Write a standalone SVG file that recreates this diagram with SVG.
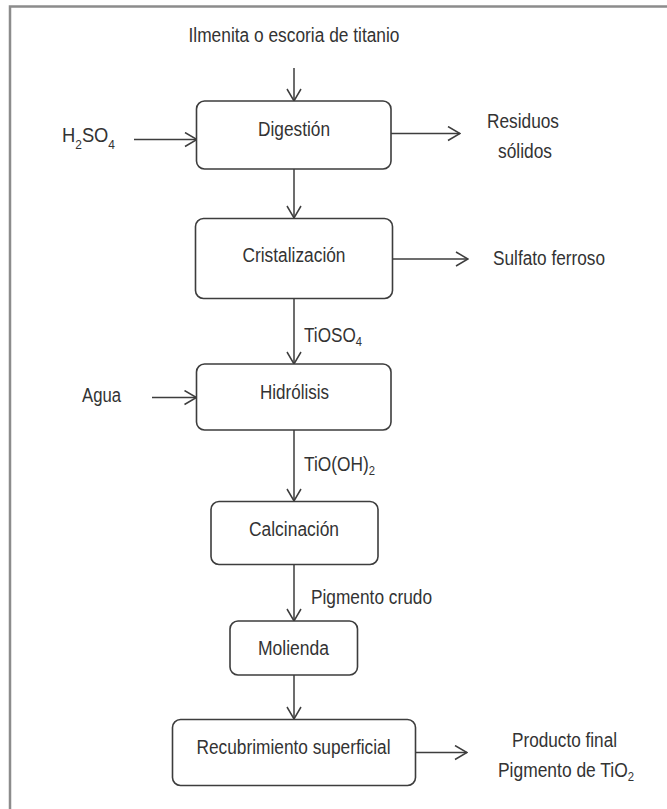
<svg xmlns="http://www.w3.org/2000/svg" width="667" height="809" viewBox="0 0 667 809">
  <style>
    .frame { fill: none; stroke: #8c8c8c; stroke-width: 2.5; }
    .box { fill: #ffffff; stroke: #3d3d3d; stroke-width: 1.6; }
    .flow { fill: none; stroke: #3d3d3d; stroke-width: 1.5; marker-end: url(#chev); }
    text { font-family: "Liberation Sans", Arial, sans-serif; font-size: 20px; fill: #333333; }
    .c { text-anchor: middle; }
    .sub { font-size: 13px; }
  </style>
  <defs>
    <marker id="chev" viewBox="0 0 14 16" refX="13" refY="8" markerWidth="14" markerHeight="16" markerUnits="userSpaceOnUse" orient="auto">
      <path d="M1,1 L13,8 L1,15" fill="none" stroke="#3d3d3d" stroke-width="1.5"/>
    </marker>
  </defs>

  <rect width="667" height="809" fill="#ffffff"/>

  <!-- outer frame (top and left edges) -->
  <path class="frame" d="M10,809 L10,6.5 L667,6.5"/>

  <!-- connectors -->
  <g id="connectors">
    <line class="flow" x1="294" y1="68" x2="294" y2="101"/>
    <line class="flow" x1="294" y1="169" x2="294" y2="218"/>
    <line class="flow" x1="294" y1="298" x2="294" y2="364"/>
    <line class="flow" x1="294" y1="430" x2="294" y2="501"/>
    <line class="flow" x1="294" y1="564" x2="294" y2="621"/>
    <line class="flow" x1="294" y1="675" x2="294" y2="719"/>
    <line class="flow" x1="134" y1="139.5" x2="197" y2="139.5"/>
    <line class="flow" x1="391" y1="133.5" x2="460" y2="133.5"/>
    <line class="flow" x1="392" y1="259" x2="468" y2="259"/>
    <line class="flow" x1="152" y1="397.5" x2="196.5" y2="397.5"/>
    <line class="flow" x1="416" y1="752.5" x2="467" y2="752.5"/>
  </g>

  <!-- stream labels -->
  <g id="labels">
    <text class="c" x="294" y="42" textLength="211" lengthAdjust="spacingAndGlyphs">Ilmenita o escoria de titanio</text>
    <text x="62" y="142" textLength="53" lengthAdjust="spacingAndGlyphs">H<tspan class="sub" dy="7">2</tspan><tspan dy="-7">SO</tspan><tspan class="sub" dy="7">4</tspan></text>
    <text class="c" x="523" y="128" textLength="72" lengthAdjust="spacingAndGlyphs">Residuos</text>
    <text class="c" x="525" y="158" textLength="54" lengthAdjust="spacingAndGlyphs">sólidos</text>
    <text x="493" y="265" textLength="112" lengthAdjust="spacingAndGlyphs">Sulfato ferroso</text>
    <text x="304" y="341.5" textLength="58" lengthAdjust="spacingAndGlyphs">TiOSO<tspan class="sub" dy="4">4</tspan></text>
    <text x="304" y="470.5" textLength="71" lengthAdjust="spacingAndGlyphs">TiO(OH)<tspan class="sub" dy="4">2</tspan></text>
    <text x="82" y="401.5" textLength="39" lengthAdjust="spacingAndGlyphs">Agua</text>
    <text x="311" y="603.5" textLength="121" lengthAdjust="spacingAndGlyphs">Pigmento crudo</text>
    <text class="c" x="564.5" y="746.5" textLength="105" lengthAdjust="spacingAndGlyphs">Producto final</text>
    <text x="498" y="776.5" textLength="136" lengthAdjust="spacingAndGlyphs">Pigmento de TiO<tspan class="sub" dy="4">2</tspan></text>
  </g>

  <!-- process steps -->
  <g id="digestion">
    <rect class="box" x="196.5" y="101" width="194.5" height="68" rx="8"/>
    <text class="c" x="294" y="136" textLength="72" lengthAdjust="spacingAndGlyphs">Digestión</text>
  </g>
  <g id="cristalizacion">
    <rect class="box" x="195.5" y="218.5" width="197" height="80" rx="8"/>
    <text class="c" x="294" y="261.5" textLength="103" lengthAdjust="spacingAndGlyphs">Cristalización</text>
  </g>
  <g id="hidrolisis">
    <rect class="box" x="196.5" y="364" width="194.5" height="66" rx="8"/>
    <text class="c" x="294.5" y="399" textLength="69" lengthAdjust="spacingAndGlyphs">Hidrólisis</text>
  </g>
  <g id="calcinacion">
    <rect class="box" x="211" y="501.5" width="167" height="63" rx="8"/>
    <text class="c" x="294" y="536" textLength="90" lengthAdjust="spacingAndGlyphs">Calcinación</text>
  </g>
  <g id="molienda">
    <rect class="box" x="230" y="621" width="127.5" height="54" rx="8"/>
    <text class="c" x="293.5" y="655" textLength="71" lengthAdjust="spacingAndGlyphs">Molienda</text>
  </g>
  <g id="recubrimiento">
    <rect class="box" x="172.5" y="719.5" width="243" height="66" rx="8"/>
    <text class="c" x="293.5" y="754" textLength="194" lengthAdjust="spacingAndGlyphs">Recubrimiento superficial</text>
  </g>
</svg>
